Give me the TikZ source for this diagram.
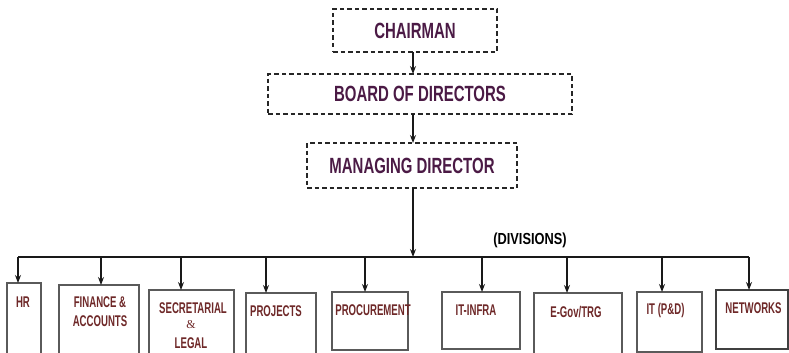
\documentclass[tikz,border=0pt]{standalone}
\usepackage{fontspec}
\setmainfont{Liberation Sans}
\newfontfamily\topf[FakeStretch=0.68]{Liberation Sans}
\newfontfamily\divf[FakeStretch=0.62]{Liberation Sans}
\newfontfamily\grpf[FakeStretch=0.80]{Liberation Sans}
\newfontfamily\serf{Liberation Serif}
\usetikzlibrary{arrows.meta}
\definecolor{topcol}{HTML}{4B1A45}
\definecolor{divcol}{HTML}{6E2828}
\definecolor{boxcol}{HTML}{5A5A5A}
\begin{document}
\begin{tikzpicture}[x=1pt,y=-1pt,
  dbox/.style={draw=black!85, line width=1.3pt, dash pattern=on 4.5pt off 3pt, inner sep=0pt,
    font=\topf\bfseries\fontsize{22}{26}\selectfont, text=topcol},
  divbox/.style={draw=boxcol, line width=1.1pt, inner sep=0pt},
  divlbl/.style={font=\divf\bfseries\fontsize{15.5}{18}\selectfont, text=divcol, inner sep=0pt, align=center},
  conn/.style={draw=black!90, line width=1.1pt},
  arr/.style={conn, -{Stealth[length=8pt,width=6pt]}}]
\useasboundingbox (0,0) rectangle (789,353);
% top hierarchy
\node[dbox, minimum width=164pt, minimum height=43pt] (ch) at (415,30.5) {CHAIRMAN};
\node[dbox, minimum width=304pt, minimum height=40pt] (bd) at (420,94) {BOARD OF DIRECTORS};
\node[dbox, minimum width=210pt, minimum height=45pt] (md) at (412,165.5) {MANAGING DIRECTOR};
\draw[arr] (413,52) -- (413,74);
\draw[arr] (413,114) -- (413,143);
% bus
\coordinate (bl) at (18,257);
\coordinate (br) at (749,257);
\coordinate (bm) at (413,257);
\draw[arr] (413,188) -- (bm);
\draw[conn] (bl) -- (br);
\node[font=\grpf\bfseries\fontsize{16}{19}\selectfont, inner sep=0pt] (grp) at (530,240) {(DIVISIONS)};
% division boxes
\node[divbox, minimum width=34pt, minimum height=72pt] (hr) at (24,319) {};
\node[divbox, minimum width=80pt, minimum height=70pt] (fin) at (99,320) {};
\node[divbox, minimum width=85pt, minimum height=65pt] (sec) at (191.5,322.5) {};
\node[divbox, minimum width=70pt, minimum height=62pt] (prj) at (281,324) {};
\node[divbox, minimum width=76pt, minimum height=58pt] (pro) at (370,321) {};
\node[divbox, minimum width=78pt, minimum height=57pt] (inf) at (481,320.5) {};
\node[divbox, minimum width=88pt, minimum height=62pt] (egv) at (578,324) {};
\node[divbox, minimum width=65pt, minimum height=60pt] (itp) at (669.5,322) {};
\node[divbox, draw=black!75, line width=1.5pt, minimum width=72pt, minimum height=59pt] (net) at (752,319.5) {};
% labels
\node[divlbl] (lhr) at (23,302) {HR};
\node[divlbl] (lfin) at (100,312) {FINANCE \&\\[1pt]ACCOUNTS};
\node[divlbl] (lsec1) at (193,308) {SECRETARIAL};
\node[font=\serf\fontsize{12}{14}\selectfont, text=divcol, inner sep=0pt] (lsec2) at (191,325) {\&};
\node[divlbl] (lsec3) at (191,343) {LEGAL};
\node[divlbl] (lprj) at (276,311) {PROJECTS};
\node[divlbl] (lpro) at (373,310) {PROCUREMENT};
\node[divlbl] (linf) at (476,310) {IT-INFRA};
\node[divlbl] (legv) at (576,312) {E-Gov/TRG};
\node[divlbl] (litp) at (665.5,310) {IT (P\&D)};
\node[divlbl] (lnet) at (753.5,308) {NETWORKS};
% arrows to divisions
\draw[arr] (bl) -- (18,283);
\draw[arr] (101,257) -- (101,285);
\draw[arr] (181,257) -- (181,290);
\draw[arr] (266,257) -- (266,293);
\draw[arr] (365,257) -- (365,292);
\draw[arr] (482,257) -- (482,292);
\draw[arr] (567,257) -- (567,293);
\draw[arr] (662,257) -- (662,292);
\draw[arr] (br) -- (749,290);
\end{tikzpicture}
\end{document}
